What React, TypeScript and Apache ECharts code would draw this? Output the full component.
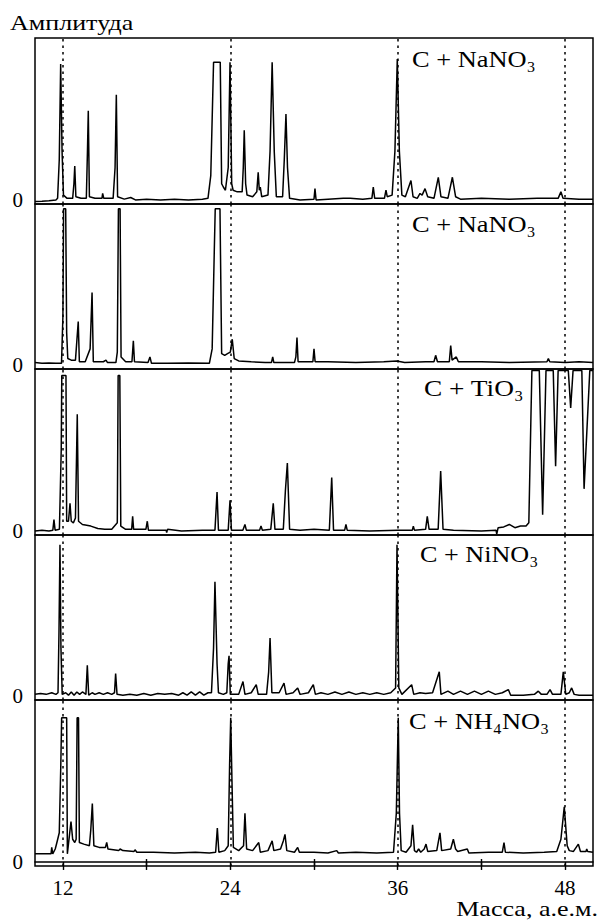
import React, { useEffect, useRef } from "react";
import * as echarts from "echarts";

// ---- data ----
const massTicks = [12, 18, 24, 30, 36, 42, 48];
const massInnerTicks = [18, 30, 42];
const massLabels = [12, 24, 36, 48];
const refLines = [12, 24, 36, 48];
const panelLabels = ["C + NaNO₃", "C + NaNO₃", "C + TiO₃", "C + NiNO₃", "C + NH₄NO₃"];
const yLabel = "Амплитуда";
const xLabel = "Масса, а.е.м.";

const spectrumNaNO3a: number[][] = [
  [10.0, -0.01], [10.5, -0.008], [11.0, -0.005], [11.5, 0.0], [11.62, 0.01], [11.74, 0.25], [11.84, 0.84], [11.94, 0.3], [12.04, 0.03],
  [12.3, 0.01], [12.7, 0.01], [12.79, 0.1], [12.85, 0.21], [12.93, 0.02], [13.3, 0.01], [13.68, 0.01], [13.76, 0.3], [13.82, 0.55],
  [13.9, 0.02], [14.3, 0.01], [14.8, 0.01], [14.85, 0.04], [14.93, 0.01], [15.6, 0.01], [15.74, 0.2], [15.83, 0.65], [15.92, 0.02],
  [16.4, 0.005], [16.86, 0.015], [17.2, 0.0], [18.0, 0.005], [19.0, 0.0], [20.0, 0.005], [21.0, 0.0], [22.0, 0.005], [22.4, 0.01],
  [22.6, 0.15], [22.8, 0.85], [23.28, 0.85], [23.38, 0.1], [23.5, 0.08], [23.65, 0.06], [23.85, 0.2], [23.98, 0.85], [24.1, 0.1],
  [24.2, 0.06], [24.5, 0.05], [24.85, 0.05], [24.93, 0.2], [25.0, 0.43], [25.1, 0.1], [25.2, 0.03], [25.6, 0.02], [25.9, 0.05],
  [26.0, 0.17], [26.08, 0.06], [26.15, 0.08], [26.25, 0.02], [26.7, 0.03], [26.85, 0.3], [27.0, 0.85], [27.15, 0.3], [27.3, 0.02],
  [27.75, 0.02], [27.87, 0.25], [27.99, 0.53], [28.1, 0.2], [28.25, 0.01], [29.0, 0.0], [30.0, 0.005], [30.07, 0.07], [30.15, 0.0],
  [31.0, 0.005], [32.1, 0.01], [32.6, 0.01], [33.5, 0.005], [34.15, 0.01], [34.25, 0.08], [34.35, 0.01], [35.05, 0.01], [35.16, 0.06],
  [35.25, 0.02], [35.6, 0.03], [35.8, 0.3], [35.97, 0.87], [36.12, 0.3], [36.3, 0.03], [36.55, 0.02], [36.95, 0.12], [37.1, 0.02],
  [37.4, 0.01], [37.6, 0.04], [37.75, 0.03], [37.96, 0.07], [38.15, 0.02], [38.6, 0.01], [38.91, 0.14], [39.1, 0.02], [39.6, 0.01],
  [39.92, 0.14], [40.15, 0.02], [40.5, 0.005], [42.0, 0.01], [44.0, 0.005], [46.0, 0.01], [47.5, 0.01], [47.7, 0.05], [47.85, 0.01],
  [49.0, 0.005], [50.0, 0.005],
];

const spectrumNaNO3b: number[][] = [
  [10.0, 0.015], [10.5, 0.01], [11.0, 0.012], [11.5, 0.01], [11.9, 0.01], [12.0, 0.3], [12.05, 0.97], [12.2, 0.97], [12.27, 0.2],
  [12.35, 0.04], [12.6, 0.03], [12.9, 0.03], [13.0, 0.15], [13.1, 0.27], [13.18, 0.02], [13.6, 0.02], [13.95, 0.1], [14.09, 0.45],
  [14.18, 0.02], [14.9, 0.02], [15.09, 0.03], [15.2, 0.015], [15.8, 0.015], [15.9, 0.08], [15.98, 0.97], [16.1, 0.97], [16.17, 0.05],
  [16.5, 0.02], [16.95, 0.02], [17.05, 0.15], [17.13, 0.02], [18.1, 0.015], [18.24, 0.05], [18.35, 0.01], [19.5, 0.01], [21.0, 0.012],
  [22.5, 0.01], [22.7, 0.1], [22.85, 0.7], [22.92, 0.97], [23.26, 0.97], [23.38, 0.07], [23.6, 0.06], [23.8, 0.07], [24.0, 0.08],
  [24.14, 0.16], [24.28, 0.04], [24.6, 0.025], [25.5, 0.02], [26.5, 0.015], [26.95, 0.015], [27.04, 0.05], [27.12, 0.015],
  [28.6, 0.015], [28.7, 0.05], [28.78, 0.17], [28.86, 0.02], [29.5, 0.02], [29.92, 0.02], [30.0, 0.1], [30.08, 0.02], [31.0, 0.02],
  [33.0, 0.015], [35.0, 0.02], [35.93, 0.025], [36.5, 0.015], [38.0, 0.02], [38.6, 0.02], [38.72, 0.06], [38.85, 0.02], [39.7, 0.02],
  [39.8, 0.12], [39.9, 0.03], [40.2, 0.05], [40.35, 0.02], [42.0, 0.02], [44.0, 0.015], [46.7, 0.02], [46.8, 0.04], [46.9, 0.02],
  [48.0, 0.015], [49.0, 0.02], [50.0, 0.015],
];

const spectrumTiO3: number[][] = [
  [10.0, 0.0], [10.5, 0.005], [11.0, 0.0], [11.28, 0.005], [11.36, 0.07], [11.44, 0.005], [11.75, 0.01], [11.88, 0.5], [11.92, 0.96],
  [12.22, 0.96], [12.27, 0.06], [12.4, 0.06], [12.51, 0.17], [12.6, 0.06], [12.75, 0.05], [12.9, 0.08], [13.03, 0.72], [13.12, 0.06],
  [13.4, 0.04], [14.0, 0.03], [14.5, 0.015], [15.0, 0.01], [15.5, 0.01], [15.9, 0.05], [15.96, 0.96], [16.08, 0.96], [16.15, 0.03],
  [16.5, 0.01], [16.93, 0.01], [17.0, 0.09], [17.07, 0.01], [17.95, 0.01], [18.05, 0.06], [18.13, 0.005], [19.4, 0.005],
  [19.44, -0.01], [19.5, 0.01], [20.5, 0.0], [22.0, 0.005], [22.9, 0.005], [23.05, 0.24], [23.15, 0.005], [23.85, 0.005],
  [23.98, 0.19], [24.08, 0.005], [24.9, 0.005], [25.05, 0.04], [25.15, 0.005], [26.1, 0.005], [26.2, 0.03], [26.3, 0.005],
  [26.9, 0.01], [27.08, 0.17], [27.2, 0.01], [27.8, 0.01], [27.95, 0.25], [28.09, 0.42], [28.25, 0.01], [29.0, 0.005], [30.0, 0.01],
  [31.1, 0.005], [31.27, 0.33], [31.4, 0.005], [32.2, 0.005], [32.29, 0.04], [32.38, 0.005], [34.0, 0.0], [36.0, 0.005],
  [37.05, 0.005], [37.12, 0.03], [37.2, 0.005], [38.0, 0.01], [38.12, 0.09], [38.25, 0.01], [38.9, 0.01], [39.08, 0.37],
  [39.25, 0.01], [40.0, 0.005], [42.0, 0.0], [43.05, 0.005], [43.1, -0.02], [43.2, 0.02], [43.6, 0.025], [44.0, 0.04], [44.4, 0.02],
  [44.8, 0.03], [45.2, 0.03], [45.4, 0.05], [45.55, 0.7], [45.62, 0.99], [46.15, 0.99], [46.39, 0.1], [46.63, 0.99], [47.15, 0.99],
  [47.32, 0.4], [47.5, 0.99], [48.23, 0.99], [48.4, 0.76], [48.57, 0.99], [49.2, 0.99], [49.36, 0.26], [49.77, 0.99], [50.0, 0.99],
];

const spectrumNiNO3: number[][] = [
  [10.0, 0.01], [10.4, 0.015], [10.8, 0.01], [11.2, 0.02], [11.5, 0.01], [11.65, 0.02], [11.72, 0.4], [11.79, 0.94], [11.86, 0.3],
  [11.95, 0.01], [12.2, 0.02], [12.4, 0.005], [12.6, 0.025], [12.8, 0.005], [13.0, 0.025], [13.2, 0.01], [13.4, 0.025], [13.65, 0.01],
  [13.75, 0.19], [13.85, 0.005], [14.1, 0.02], [14.3, 0.01], [14.6, 0.02], [14.9, 0.01], [15.2, 0.02], [15.5, 0.01], [15.7, 0.02],
  [15.78, 0.14], [15.88, 0.01], [16.3, 0.005], [16.8, 0.01], [17.3, 0.005], [17.8, 0.015], [18.3, 0.005], [18.8, 0.015], [19.3, 0.01],
  [19.8, 0.015], [20.3, 0.005], [20.6, 0.02], [20.9, 0.005], [21.2, 0.025], [21.5, 0.005], [21.8, 0.025], [22.1, 0.005], [22.4, 0.02],
  [22.65, 0.02], [22.8, 0.3], [22.9, 0.71], [23.05, 0.2], [23.15, 0.02], [23.5, 0.01], [23.75, 0.02], [23.85, 0.2], [23.91, 0.25],
  [24.0, 0.01], [24.6, 0.01], [24.91, 0.09], [25.05, 0.01], [25.5, 0.02], [25.86, 0.07], [26.0, 0.01], [26.6, 0.01], [26.75, 0.15],
  [26.85, 0.36], [26.98, 0.02], [27.5, 0.02], [27.85, 0.08], [28.0, 0.01], [28.5, 0.02], [28.83, 0.05], [29.0, 0.01], [29.6, 0.02],
  [29.95, 0.07], [30.1, 0.01], [30.5, 0.02], [31.0, 0.01], [31.5, 0.025], [32.0, 0.01], [32.5, 0.025], [33.0, 0.01], [33.5, 0.02],
  [34.0, 0.01], [34.5, 0.02], [35.0, 0.01], [35.5, 0.02], [35.85, 0.05], [35.95, 0.94], [36.08, 0.05], [36.3, 0.01], [37.0, 0.07],
  [37.15, 0.01], [37.6, 0.02], [38.0, 0.015], [38.5, 0.02], [38.98, 0.15], [39.1, 0.01], [39.6, 0.03], [40.0, 0.01], [40.5, 0.03],
  [41.0, 0.01], [41.5, 0.03], [42.0, 0.01], [42.5, 0.03], [43.0, 0.01], [43.5, 0.02], [43.93, 0.04], [44.1, 0.005], [45.0, 0.005],
  [45.8, 0.01], [46.08, 0.03], [46.3, 0.01], [46.7, 0.01], [46.92, 0.04], [47.1, 0.01], [47.7, 0.01], [47.87, 0.15], [48.05, 0.01],
  [48.3, 0.02], [48.47, 0.05], [48.65, 0.01], [49.0, 0.005], [50.0, 0.005],
];

const spectrumNH4NO3: number[][] = [
  [10.0, 0.05], [10.5, 0.05], [11.0, 0.05], [11.15, 0.05], [11.2, 0.09], [11.27, 0.05], [11.45, 0.08], [11.57, 0.12], [11.74, 0.18],
  [11.85, 0.6], [11.91, 0.89], [12.27, 0.89], [12.32, 0.05], [12.45, 0.15], [12.58, 0.25], [12.7, 0.14], [12.85, 0.12], [12.95, 0.14],
  [13.02, 0.89], [13.12, 0.89], [13.18, 0.12], [13.5, 0.11], [13.9, 0.1], [14.0, 0.2], [14.11, 0.36], [14.22, 0.1], [14.6, 0.09],
  [15.05, 0.09], [15.14, 0.12], [15.23, 0.08], [16.0, 0.07], [16.1, 0.08], [16.3, 0.07], [17.1, 0.065], [17.17, 0.075], [17.3, 0.06],
  [18.5, 0.06], [20.0, 0.055], [21.5, 0.06], [22.5, 0.055], [22.95, 0.06], [23.07, 0.21], [23.18, 0.06], [23.6, 0.07], [23.85, 0.1],
  [23.95, 0.6], [24.03, 0.89], [24.12, 0.5], [24.22, 0.09], [24.6, 0.07], [24.95, 0.1], [25.05, 0.3], [25.17, 0.08], [25.6, 0.07],
  [26.04, 0.12], [26.15, 0.06], [26.7, 0.07], [27.0, 0.13], [27.12, 0.07], [27.6, 0.08], [27.8, 0.13], [27.92, 0.17], [28.05, 0.07],
  [28.6, 0.06], [28.83, 0.09], [28.95, 0.06], [30.0, 0.06], [31.0, 0.055], [31.63, 0.07], [31.75, 0.055], [33.0, 0.06], [34.5, 0.055],
  [35.7, 0.06], [35.9, 0.3], [36.04, 0.89], [36.13, 0.3], [36.25, 0.07], [36.6, 0.06], [36.95, 0.1], [37.07, 0.23], [37.2, 0.07],
  [37.35, 0.06], [37.5, 0.08], [37.65, 0.06], [37.9, 0.08], [38.03, 0.11], [38.15, 0.065], [38.8, 0.07], [39.03, 0.18], [39.15, 0.07],
  [39.8, 0.08], [39.99, 0.14], [40.15, 0.08], [40.3, 0.065], [40.99, 0.08], [41.1, 0.055], [42.5, 0.06], [43.5, 0.06], [43.62, 0.12],
  [43.72, 0.06], [45.0, 0.055], [46.5, 0.06], [47.4, 0.065], [47.7, 0.14], [47.94, 0.34], [48.15, 0.1], [48.3, 0.07], [48.6, 0.065],
  [48.95, 0.11], [49.1, 0.065], [49.5, 0.065], [49.55, 0.08], [49.62, 0.065], [50.0, 0.06],
];

const spectra = [spectrumNaNO3a, spectrumNaNO3b, spectrumTiO3, spectrumNiNO3, spectrumNH4NO3];

// ---- layout ----
const FONT = '"Liberation Serif", "DejaVu Serif", serif';
const PANEL_TOPS = [38, 204, 369, 535, 700];
const PANEL_HEIGHTS = [166, 165, 166, 165, 166];
const LEFT = 35;
const PLOT_W = 558;
const LABEL_POS = [
  [412, 58.5, 1.1],
  [412, 223.5, 1.1],
  [424, 388.5, 1.14],
  [420, 553.5, 1.09],
  [409, 721, 1.1],
];

export default function App() {
  const ref = useRef<HTMLDivElement>(null);

  useEffect(() => {
    if (!ref.current) return;
    const chart = echarts.init(ref.current, undefined, { renderer: "svg" });
    const n = spectra.length;

    const grids = PANEL_TOPS.map((top, i) => ({
      left: LEFT,
      width: PLOT_W,
      top,
      height: PANEL_HEIGHTS[i],
      show: true,
      borderColor: "#000",
      borderWidth: 1.5,
      backgroundColor: "transparent",
      containLabel: false,
      outerBoundsMode: "none",
    }));

    const xAxes: any[] = spectra.map((_, i) => {
      const last = i === n - 1;
      return {
        type: "value",
        gridIndex: i,
        min: 10,
        max: 50,
        axisLine: { show: last, lineStyle: { color: "#000", width: 1.5 } },
        axisTick: last
          ? { show: true, customValues: massTicks, length: 8, inside: false, lineStyle: { color: "#000", width: 1.4 } }
          : { show: false },
        axisLabel: last
          ? { show: true, customValues: massLabels, fontFamily: FONT, fontSize: 21, color: "#000", margin: 11 }
          : { show: false },
        splitLine: { show: false },
      };
    });
    xAxes.push({
      type: "value",
      gridIndex: n - 1,
      position: "bottom",
      min: 10,
      max: 50,
      axisLine: { show: false },
      axisTick: { show: true, customValues: massInnerTicks, length: 7, inside: true, lineStyle: { color: "#000", width: 1.4 } },
      axisLabel: { show: false },
      splitLine: { show: false },
    });

    const yAxes = spectra.map((_, i) => ({
      type: "value",
      gridIndex: i,
      min: -0.025,
      max: 1,
      axisLine: { show: false },
      axisTick: { show: false },
      splitLine: { show: false },
      axisLabel: {
        show: true,
        formatter: (v: number) => (Math.abs(v) < 1e-9 ? "0" : ""),
        fontFamily: FONT,
        fontSize: 21,
        color: "#000",
        margin: 12,
      },
    }));

    const series = spectra.map((d, i) => ({
      type: "line",
      xAxisIndex: i,
      yAxisIndex: i,
      data: d,
      symbol: "none",
      showSymbol: false,
      clip: true,
      lineStyle: { color: "#000", width: 1.5 },
      markLine: {
        silent: true,
        symbol: "none",
        label: { show: false },
        lineStyle: { color: "#000", width: 1.5, type: [2.5, 4] },
        data: refLines.map((v) => ({ xAxis: v })),
      },
    }));

    const graphics: any[] = [
      {
        type: "text",
        x: 10,
        y: 22.5,
        scaleX: 1.24,
        style: { text: yLabel, font: `21px ${FONT}`, fill: "#000", textAlign: "left", textVerticalAlign: "middle" },
      },
      {
        type: "text",
        x: 598,
        y: 909,
        scaleX: 1.24,
        style: { text: xLabel, font: `21px ${FONT}`, fill: "#000", textAlign: "right", textVerticalAlign: "middle" },
      },
      ...panelLabels.map((t, i) => ({
        type: "text",
        x: LABEL_POS[i][0],
        y: LABEL_POS[i][1],
        scaleX: LABEL_POS[i][2],
        style: { text: t, font: `24px ${FONT}`, fill: "#000", textAlign: "left", textVerticalAlign: "middle" },
      })),
    ];

    chart.setOption({
      animation: false,
      backgroundColor: "#fff",
      grid: grids,
      xAxis: xAxes,
      yAxis: yAxes,
      series,
      graphic: graphics,
    });

    return () => chart.dispose();
  }, []);

  return <div ref={ref} style={{ position: "absolute", left: 0, top: 0, width: 600, height: 920 }} />;
}
